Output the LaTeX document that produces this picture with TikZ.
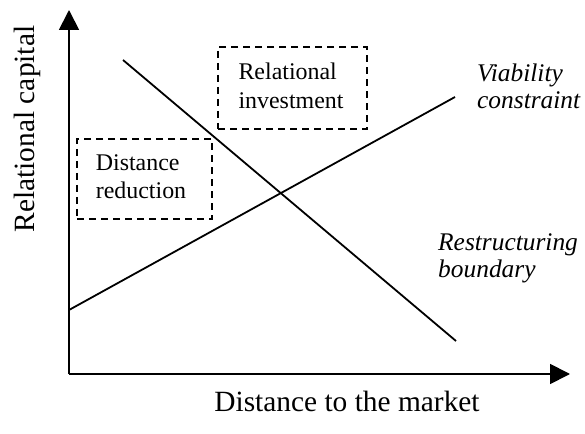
\documentclass[tikz,border=0pt]{standalone}
\usepackage{fontspec}
\setmainfont{Liberation Serif}
\usetikzlibrary{arrows.meta}
\begin{document}
\begin{tikzpicture}[x=1bp,y=-1bp,
  axisline/.style={line width=1.8bp,-{Triangle[length=20bp,width=20bp]}},
  curve/.style={line width=1.8bp},
  dashbox/.style={draw,line width=1.4bp,dash pattern=on 7bp off 5bp,inner sep=0pt},
  smalltext/.style={font=\fontsize{24}{28.5}\selectfont,align=left,inner sep=0pt},
  itext/.style={font=\fontsize{25.5}{27}\selectfont\itshape,align=left,inner sep=0pt,anchor=west},
  bigtext/.style={font=\fontsize{29.5}{34}\selectfont,inner sep=0pt}]
\useasboundingbox (0,0) rectangle (585,434);
% axes
\coordinate (O) at (69,374);
\coordinate (ytip) at (69,10);
\coordinate (xtip) at (570,374);
\draw[axisline] (O) -- (ytip);
\draw[axisline] (O) -- (xtip);
% lines
\coordinate (v1) at (69,310);
\coordinate (v2) at (455,97);
\coordinate (r1) at (123,60);
\coordinate (r2) at (456,341);
\draw[curve] (v1) -- (v2);
\draw[curve] (r1) -- (r2);
% dashed boxes
\node[dashbox,minimum width=149bp,minimum height=82bp] (ribox) at (292.5,88) {};
\node[smalltext] (ri) at (291,86) {Relational\\investment};
\node[dashbox,minimum width=135bp,minimum height=80bp] (drbox) at (144.5,179) {};
\node[smalltext] (dr) at (141,177) {Distance\\reduction};
% labels
\node[itext] (vc) at (477,86) {Viability\\constraint};
\node[itext] (rb) at (438,258) {Restructuring\\boundary};
\node[bigtext] (xl) at (347,401) {Distance to the market};
\node[bigtext,rotate=90] (yl) at (27,129) {Relational capital};
\end{tikzpicture}
\end{document}
